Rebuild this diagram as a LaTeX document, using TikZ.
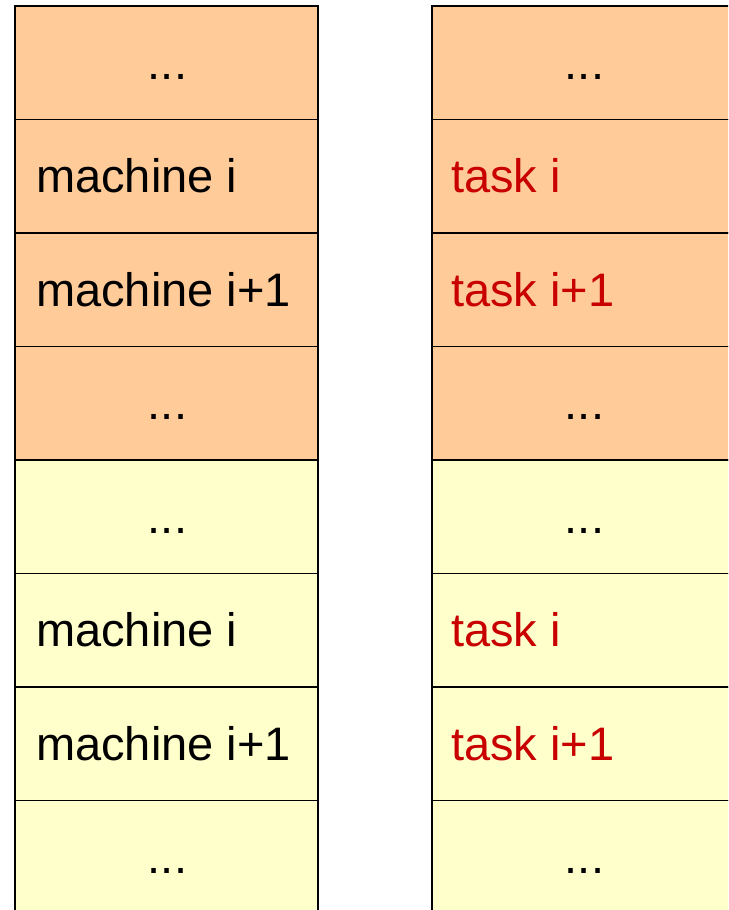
\documentclass[tikz,border=0pt]{standalone}
\usepackage{fontspec}
\setmainfont{Liberation Sans}
\definecolor{warmfill}{HTML}{FFCC99}
\definecolor{paleyellow}{HTML}{FFFFCC}
\definecolor{taskred}{HTML}{C80000}
\tikzset{
  cell/.style={draw=black, line width=1.3pt, minimum width=303pt, minimum height=113.5pt,
    inner sep=0pt, outer sep=0pt, anchor=north west},
  warm/.style={cell, fill=warmfill},
  pale/.style={cell, fill=paleyellow},
  label/.style={font=\fontsize{47}{56}\selectfont, inner sep=0pt, anchor=base west},
  dots/.style={font=\fontsize{47}{56}\selectfont, inner sep=0pt, anchor=base},
  tasktext/.style={label, text=taskred}
}
\begin{document}
\begin{tikzpicture}[x=1pt, y=-1pt]
\useasboundingbox (0,0) rectangle (728,910);
\clip (0,0) rectangle (728,910);
% machine column
\node[warm] (m1) at (15,6) {};
\node[warm] (m2) at (15,119.5) {};
\node[warm] (m3) at (15,233) {};
\node[warm] (m4) at (15,346.5) {};
\node[pale] (m5) at (15,460) {};
\node[pale] (m6) at (15,573.5) {};
\node[pale] (m7) at (15,687) {};
\node[pale] (m8) at (15,800.5) {};
% task column
\node[warm] (t1) at (432,6) {};
\node[warm] (t2) at (432,119.5) {};
\node[warm] (t3) at (432,233) {};
\node[warm] (t4) at (432,346.5) {};
\node[pale] (t5) at (432,460) {};
\node[pale] (t6) at (432,573.5) {};
\node[pale] (t7) at (432,687) {};
\node[pale] (t8) at (432,800.5) {};
% cell texts
\foreach \c in {m1,m4,m5,m8,t1,t4,t5,t8}
  \node[dots] (\c-text) at ([xshift=1pt,yshift=-16.5pt]\c.center) {...};
\node[label] (m2-text) at ([xshift=21pt,yshift=-16.5pt]m2.west) {machine i};
\node[label] (m3-text) at ([xshift=21pt,yshift=-16.5pt]m3.west) {machine i+1};
\node[label] (m6-text) at ([xshift=21pt,yshift=-16.5pt]m6.west) {machine i};
\node[label] (m7-text) at ([xshift=21pt,yshift=-16.5pt]m7.west) {machine i+1};
\node[tasktext] (t2-text) at ([xshift=19pt,yshift=-16.5pt]t2.west) {task i};
\node[tasktext] (t3-text) at ([xshift=19pt,yshift=-16.5pt]t3.west) {task i+1};
\node[tasktext] (t6-text) at ([xshift=19pt,yshift=-16.5pt]t6.west) {task i};
\node[tasktext] (t7-text) at ([xshift=19pt,yshift=-16.5pt]t7.west) {task i+1};
\end{tikzpicture}
\end{document}
